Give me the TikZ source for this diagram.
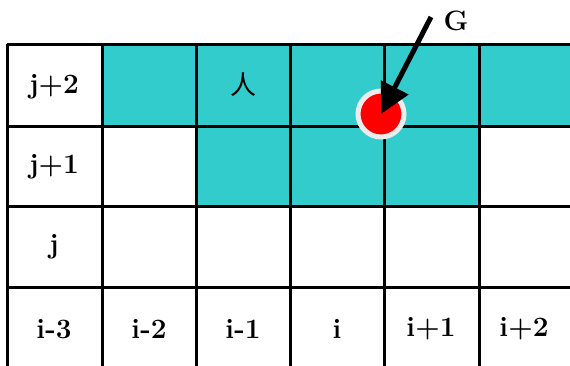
\documentclass[tikz,border=0pt]{standalone}
\usepackage{fontspec}
\newfontfamily\cjk{Noto Sans CJK SC}
\usetikzlibrary{arrows.meta}
\definecolor{cellteal}{RGB}{51,204,204}
\begin{document}
\begin{tikzpicture}[x=1pt,y=-1pt,
  lbl/.style={font=\fontsize{28}{30}\selectfont\bfseries},
  gridline/.style={line width=3pt}]
\useasboundingbox (0,0) rectangle (570,365);
\begin{scope}
\clip (0,0) rectangle (570,365);
\fill[cellteal] (102,44) rectangle (575,126);
\fill[cellteal] (196,126) rectangle (479,206);
\foreach \x in {7,102,196,290,384,479} \draw[gridline] (\x,44) -- (\x,370);
\foreach \y in {44,126,206,287} \draw[gridline] (7,\y) -- (575,\y);
\end{scope}
\node[lbl] (jtwo) at (54,87) {j+2};
\node[lbl] (jone) at (54,167) {j+1};
\node[lbl] (jzero) at (54,247) {j};
\foreach \t/\x [count=\k] in {i-3/54,i-2/149,i-1/243,i/337,i+1/431,i+2/524}
  \node[lbl] (col\k) at (\x,329) {\t};
\node[font=\cjk\fontsize{26}{28}\selectfont] (man) at (243,85) {人};
\node[circle,fill=red,draw=gray!15,line width=5pt,minimum size=46pt] (goal) at (381,114) {};
\node[lbl] (glabel) at (456,21) {G};
\coordinate (gtail) at (431,17);
\draw[line width=5pt,-{Triangle[length=30pt,width=30pt]}] (gtail) -- (goal.center);
\end{tikzpicture}
\end{document}
